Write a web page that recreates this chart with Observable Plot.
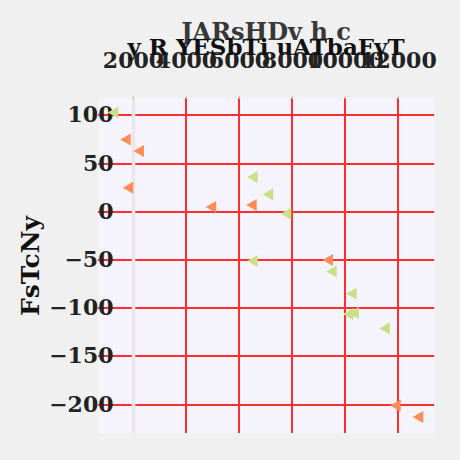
<!DOCTYPE html>
<html>
<head>
<meta charset="utf-8">
<script src="https://cdn.jsdelivr.net/npm/d3@7"></script>
<script src="https://cdn.jsdelivr.net/npm/@observablehq/plot@0.6"></script>
<style>
  html, body { margin: 0; padding: 0; background: #f0f0f0; }
  #wrap { position: relative; width: 460px; height: 460px; overflow: hidden; }
  .ttl { position: absolute; left: 98px; width: 336px; text-align: center; font-family: "DejaVu Serif", serif; font-weight: bold; white-space: nowrap; line-height: 1; }
  #title { top: 20px; font-size: 24px; color: #383838; }
  #subtitle { top: 35px; font-size: 23px; color: #111; }
</style>
</head>
<body>
<div id="wrap">
  <div id="chart"></div>
  <div class="ttl" id="title"></div>
  <div class="ttl" id="subtitle"></div>
</div>
<script>
const titleText = "JARsHDv h c";
const subtitleText = "y R YESbTi uATbaFyT";
const yLabel = "FsTcNy";
const xTicks = [2000, 4000, 6000, 8000, 10000, 12000];
const yTicks = [-200, -150, -100, -50, 0, 50, 100];

const seriesNames = ["s1", "s2"];
const seriesColors = ["#c8e088", "#fc8d59"];
const s1X = [1294, 6555, 7143, 7823, 6555, 9536, 10291, 10164, 10377, 11547];
const s1Y = [103, 36, 18, -2, -51, -62, -85, -106, -105, -121];
const s2X = [1762, 2264, 1860, 4992, 6517, 9396, 11951, 12804];
const s2Y = [75, 63, 25, 5, 7, -50, -201, -213];

document.getElementById("title").textContent = titleText;
document.getElementById("subtitle").textContent = subtitleText;

const data = [
  ...s1X.map((x, i) => ({x, y: s1Y[i], s: seriesNames[0]})),
  ...s2X.map((x, i) => ({x, y: s2Y[i], s: seriesNames[1]}))
];

const chart = Plot.plot({
  width: 460,
  height: 460,
  marginTop: 98,
  marginLeft: 98,
  marginRight: 26,
  marginBottom: 27,
  style: { background: "#f0f0f0", fontFamily: "DejaVu Serif", fontWeight: "bold", fontSize: "22px", color: "#222" },
  x: { domain: [680, 13360], ticks: xTicks, axis: null },
  y: { domain: [-230, 117.5], ticks: yTicks, axis: null },
  color: { domain: seriesNames, range: seriesColors },
  marks: [
    Plot.frame({ fill: "#f5f4fd", stroke: null }),
    Plot.gridY(yTicks, { stroke: "#ff2e2e", strokeOpacity: 1, strokeWidth: 2, shapeRendering: "crispEdges" }),
    Plot.gridX(xTicks.slice(1), { stroke: "#ff2e2e", strokeOpacity: 1, strokeWidth: 2, shapeRendering: "crispEdges" }),
    Plot.ruleX([xTicks[0]], { stroke: "#ebe6e8", strokeWidth: 3.5 }),
    Plot.axisX(xTicks, { anchor: "top", tickSize: 3, tickPadding: 28, stroke: "#bbb", fill: "#222", fontSize: 22, fontWeight: "bold", label: null, tickFormat: d => String(d) }),
    Plot.axisY(yTicks, { anchor: "left", tickSize: 0, tickPadding: -15, fill: "#222", fontSize: 22, fontWeight: "bold", label: null, tickFormat: d => d < 0 ? "\u2212" + Math.abs(d) : String(d) }),
    Plot.text([yLabel], { frameAnchor: "left", textAnchor: "middle", dx: -68, rotate: -90, fontSize: 25, fontWeight: "bold", fill: "#111" }),
    Plot.dot(data, { x: "x", y: "y", fill: "s", symbol: "triangle", rotate: -90, r: 4.5, stroke: null })
  ]
});
document.getElementById("chart").appendChild(chart);
</script>
</body>
</html>
